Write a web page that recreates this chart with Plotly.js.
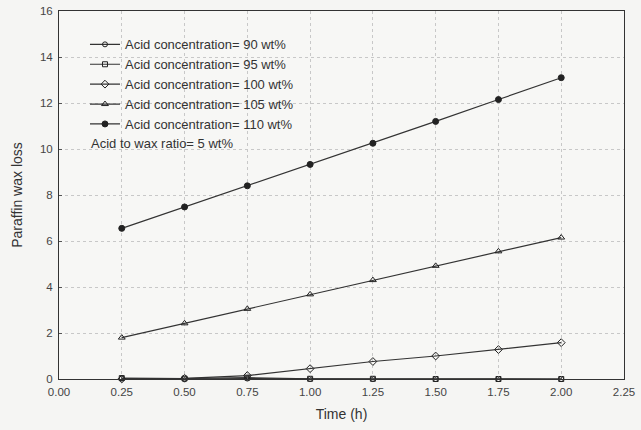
<!DOCTYPE html>
<html>
<head>
<meta charset="utf-8">
<script src="https://cdn.plot.ly/plotly-3.0.1.min.js"></script>
<style>
html,body{margin:0;padding:0;background:#f5f5f3;}
#chart{width:641px;height:430px;}
</style>
</head>
<body>
<div id="chart"></div>
<script>
// Time (h)
const timeH = [0.25, 0.50, 0.75, 1.00, 1.25, 1.50, 1.75, 2.00];
// Paraffin wax loss per acid concentration
const loss90  = [0.02, 0.00, 0.02, 0.00, 0.00, 0.00, 0.00, 0.00];
const loss95  = [0.04, 0.02, 0.06, 0.01, 0.01, 0.00, 0.00, 0.00];
const loss100 = [0.00, 0.03, 0.15, 0.45, 0.76, 1.00, 1.28, 1.58];
const loss105 = [1.80, 2.42, 3.05, 3.68, 4.30, 4.92, 5.55, 6.15];
const loss110 = [6.55, 7.48, 8.40, 9.33, 10.25, 11.20, 12.15, 13.10];
const seriesNames = [
  "Acid concentration= 90 wt%",
  "Acid concentration= 95 wt%",
  "Acid concentration= 100 wt%",
  "Acid concentration= 105 wt%",
  "Acid concentration= 110 wt%"
];
const noteText = "Acid to wax ratio= 5 wt%";
const xTickVals = [0, 0.25, 0.5, 0.75, 1.0, 1.25, 1.5, 1.75, 2.0, 2.25];
const yTickVals = [0, 2, 4, 6, 8, 10, 12, 14, 16];

const seriesData = [loss90, loss95, loss100, loss105, loss110];
const markerStyles = [
  {symbol: "circle-open", size: 5},
  {symbol: "square-open", size: 5},
  {symbol: "diamond-open", size: 6},
  {symbol: "triangle-up-open", size: 6},
  {symbol: "circle", size: 6}
];

const traces = seriesData.map((ys, i) => ({
  x: timeH,
  y: ys,
  name: seriesNames[i],
  type: "scatter",
  mode: "lines+markers",
  cliponaxis: false,
  line: {color: "#333333", width: 1.2},
  marker: {
    symbol: markerStyles[i].symbol,
    size: markerStyles[i].size,
    color: "#222222",
    line: {color: "#222222", width: 1}
  }
}));

const font = "'Liberation Sans', Arial, sans-serif";

const layout = {
  width: 641,
  height: 430,
  paper_bgcolor: "#f5f5f3",
  plot_bgcolor: "#f7f7f5",
  margin: {l: 59, r: 17, t: 11, b: 51},
  font: {family: font, size: 11, color: "#333"},
  showlegend: true,
  legend: {
    x: 0.046, y: 0.95, xanchor: "left", yanchor: "top",
    bgcolor: "rgba(0,0,0,0)",
    font: {family: font, size: 13, color: "#333"},
    tracegroupgap: 0
  },
  xaxis: {
    range: [0, 2.25],
    tickvals: xTickVals,
    tickformat: ".2f",
    showline: true, mirror: true, linecolor: "#333", linewidth: 1,
    showgrid: true, gridcolor: "#c8c8c8", griddash: "dot", gridwidth: 1,
    zeroline: false,
    ticks: "inside", ticklen: 3, tickcolor: "#555",
    ticklabelstandoff: 2,
    tickfont: {family: font, size: 11.5, color: "#444"},
    title: {text: "Time (h)", font: {family: font, size: 14, color: "#333"}, standoff: 12}
  },
  yaxis: {
    range: [0, 16],
    tickvals: yTickVals,
    showline: true, mirror: true, linecolor: "#333", linewidth: 1,
    showgrid: true, gridcolor: "#c8c8c8", griddash: "dot", gridwidth: 1,
    zeroline: false,
    ticks: "inside", ticklen: 3, tickcolor: "#555",
    ticklabelstandoff: 3,
    tickfont: {family: font, size: 11.5, color: "#444"},
    title: {text: "Paraffin wax loss", font: {family: font, size: 14, color: "#333"}, standoff: 14}
  },
  annotations: [{
    text: noteText,
    xref: "paper", yref: "paper",
    x: 0.053, y: 0.64, xanchor: "left", yanchor: "middle",
    showarrow: false,
    font: {family: font, size: 13, color: "#333"}
  }]
};

Plotly.newPlot("chart", traces, layout, {displayModeBar: false, staticPlot: true});
</script>
</body>
</html>
